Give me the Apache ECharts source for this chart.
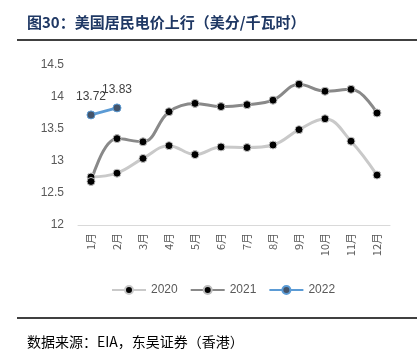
<!DOCTYPE html>
<html>
<head>
<meta charset="utf-8">
<script src="https://cdn.jsdelivr.net/npm/echarts@6/dist/echarts.min.js"></script>
<style>
  html, body { margin: 0; padding: 0; background: #fff; }
  #chart { width: 417px; height: 351px; }
</style>
</head>
<body>
<div id="chart"></div>
<script>
const months = ["1月", "2月", "3月", "4月", "5月", "6月", "7月", "8月", "9月", "10月", "11月", "12月"];
const y2020 = [12.75, 12.81, 13.04, 13.24, 13.10, 13.22, 13.21, 13.25, 13.49, 13.66, 13.31, 12.78];
const y2021 = [12.68, 13.35, 13.30, 13.77, 13.90, 13.85, 13.88, 13.95, 14.20, 14.09, 14.12, 13.75];
const y2022 = [13.72, 13.83];
const yTicks = { min: 12, max: 14.5, step: 0.5 };

const chart = echarts.init(document.getElementById("chart"));
const font = "'Noto Sans CJK SC', sans-serif";
const latin = "'Liberation Sans', Arial, sans-serif";

// year series share the same look, only colours differ
function yearSeries(name, data, lineColor, dotColor, dotBorder) {
  return {
    name: name,
    type: "line",
    smooth: 0.4,
    data: data,
    symbol: "circle",
    symbolSize: 8,
    lineStyle: { color: lineColor, width: 3 },
    itemStyle: { color: dotColor, borderColor: dotBorder, borderWidth: 1 },
    z: name === "2022" ? 5 : 3,
  };
}

const option = {
  animation: false,
  textStyle: { fontFamily: font },
  graphic: [
    {
      type: "text", left: 27, top: 15,
      style: { text: "图30：美国居民电价上行（美分/千瓦时）", font: "bold 15px " + font, fill: "#1f3864" },
    },
    { type: "line", shape: { x1: 17, y1: 40, x2: 417, y2: 40 }, style: { stroke: "#000", lineWidth: 1.5 } },
    { type: "line", shape: { x1: 17, y1: 318, x2: 417, y2: 318 }, style: { stroke: "#000", lineWidth: 1.5 } },
    {
      type: "text", left: 27, top: 335,
      style: { text: "数据来源：EIA，东吴证券（香港）", font: "14px " + font, fill: "#000" },
    },
  ],
  legend: {
    top: 279,
    left: 106,
    itemWidth: 34,
    itemHeight: 10,
    itemGap: 12,
    textStyle: { color: "#595959", fontSize: 12, fontFamily: latin },
    data: ["2020", "2021", "2022"],
  },
  grid: { left: 78, right: 27, top: 65, bottom: 126 },
  xAxis: {
    type: "category",
    data: months,
    boundaryGap: true,
    axisLine: { lineStyle: { color: "#d9d9d9", width: 1 } },
    axisTick: { show: false },
    axisLabel: { rotate: 90, color: "#595959", fontSize: 11, margin: 8 },
  },
  yAxis: {
    type: "value",
    min: yTicks.min,
    max: yTicks.max,
    interval: yTicks.step,
    axisLine: { show: false },
    axisTick: { show: false },
    splitLine: { show: false },
    axisLabel: { color: "#595959", fontSize: 12, margin: 14, fontFamily: latin },
  },
  series: [
    yearSeries("2020", y2020, "#c9c9c9", "#000", "#c9c9c9"),
    yearSeries("2021", y2021, "#898989", "#000", "#bdbdbd"),
    Object.assign(yearSeries("2022", y2022, "#5b9bd5", "#44546a", "#5b9bd5"), {
      label: {
        show: true,
        position: "top",
        distance: 8,
        color: "#404040",
        fontSize: 12,
        fontFamily: latin,
      },
    }),
  ],
};

chart.setOption(option);
</script>
</body>
</html>
